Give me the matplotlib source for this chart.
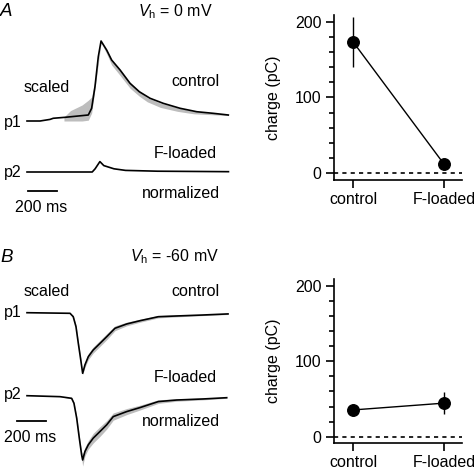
import numpy as np
import matplotlib
matplotlib.use("Agg")
import matplotlib.pyplot as plt
from matplotlib.ticker import MultipleLocator

plt.rcParams['font.family'] = ['Liberation Sans', 'DejaVu Sans']
plt.rcParams['mathtext.fontset'] = 'custom'
plt.rcParams['mathtext.rm'] = 'Liberation Sans'
plt.rcParams['mathtext.it'] = 'Liberation Sans:italic'

# ---------------- data ----------------
# Panel A (Vh = 0 mV) traces: time (ms), normalized amplitude
a_p1_t = [0, 90, 159, 181, 262, 423, 446, 469, 492, 511, 550, 584, 642, 711, 775, 849, 940, 1056, 1171, 1285, 1389]
a_p1_y = [0, 0, 0.02, 0.034, 0.046, 0.075, 0.159, 0.429, 0.804, 1.0, 0.886, 0.762, 0.638, 0.471, 0.366,
          0.284, 0.221, 0.159, 0.116, 0.096, 0.075]
a_band_t = [255, 300, 380, 423, 446, 469, 511, 550, 584, 642, 711, 775, 830, 920, 1040, 1150, 1260, 1390]
a_band_lo = [0.0, 0.0, 0.0, 0.01, 0.10, 0.40, 0.98, 0.84, 0.70, 0.57, 0.41, 0.31, 0.24, 0.17, 0.12, 0.09, 0.08, 0.068]
a_band_hi = [0.05, 0.13, 0.20, 0.26, 0.30, 0.50, 1.0, 0.89, 0.77, 0.645, 0.48, 0.375, 0.29, 0.225, 0.165, 0.12, 0.10, 0.08]
a_p2_t = [0, 450, 470, 503, 530, 600, 680, 900, 1390]
a_p2_y = [0, 0, 0.04, 0.13, 0.08, 0.04, 0.02, 0.01, 0.004]

# Panel B (Vh = -60 mV) traces
b_p1_t = [0, 297, 319, 338, 354, 371, 384, 400, 423, 457, 504, 550, 607, 688, 780, 906, 1033, 1214, 1387]
b_p1_y = [0, -0.01, -0.066, -0.231, -0.505, -0.78, -1.0, -0.86, -0.725, -0.615, -0.505, -0.396, -0.257,
          -0.186, -0.132, -0.066, -0.054, -0.038, -0.02]
b_p1_sd = [0, 0, 0.02, 0.03, 0.03, 0.03, 0.02, 0.04, 0.05, 0.05, 0.05, 0.05, 0.04, 0.03, 0.025, 0.02, 0.015, 0.01, 0.01]
b_p2_t = [0, 228, 308, 324, 343, 361, 377, 384, 400, 423, 457, 504, 550, 595, 688, 780, 906, 1033, 1214, 1378]
b_p2_y = [0, -0.016, -0.043, -0.125, -0.372, -0.702, -0.978, -1.061, -0.92, -0.81, -0.70, -0.59, -0.48, -0.345,
          -0.262, -0.196, -0.097, -0.071, -0.054, -0.033]
b_p2_sd = [0, 0, 0.01, 0.02, 0.03, 0.03, 0.05, 0.1, 0.07, 0.07, 0.08, 0.08, 0.07, 0.06, 0.05, 0.04, 0.03, 0.02, 0.015, 0.01]

# Charge summary
conditions = ['control', 'F-loaded']
charge_a = [173.5, 12]
charge_a_err = [33, 0]
charge_b = [35.5, 44.5]
charge_b_err = [8, 15]

# ---------------- figure ----------------
W, H = 474, 476
fig = plt.figure(figsize=(W / 100, H / 100), dpi=100)

def rect(x0, y0, x1, y1):
    return [x0 / W, 1 - y1 / H, (x1 - x0) / W, (y1 - y0) / H]

def fpos(x, y):
    return x / W, 1 - y / H

MS_PER_PX = 6.9
X0 = 27
FS = 11.5
GRAY = '#bdbdbd'

def trace_axes(y0, y1, base_px, px_per_unit):
    ax = fig.add_axes(rect(0, y0, 240, y1))
    ax.set_xlim(-X0 * MS_PER_PX, (240 - X0) * MS_PER_PX)
    ax.set_ylim(-(y1 - base_px) / px_per_unit, (base_px - y0) / px_per_unit)
    ax.axis('off')
    return ax

# Panel A traces
axA = trace_axes(0, 230, 121, 80.0)
offA2 = -(172 - 121) / 80.0
axA.fill_between(a_band_t, a_band_lo, a_band_hi, color=GRAY, lw=0)
axA.plot(a_p1_t, a_p1_y, color='black', lw=1.2)
axA.plot(a_p2_t, np.array(a_p2_y) + offA2, color='black', lw=1.2)
axA.plot([7, 207], [-(191 - 121) / 80.0] * 2, color='black', lw=1.3)

# Panel B traces
axB = trace_axes(230, 476, 312.7, 60.6)
offB2 = -(395.7 - 312.7) / 60.6
b1 = np.array(b_p1_y); s1 = np.array(b_p1_sd)
b2 = np.array(b_p2_y) + offB2; s2 = np.array(b_p2_sd)
axB.fill_between(b_p1_t, b1 - s1, b1 + s1, color=GRAY, lw=0)
axB.fill_between(b_p2_t, b2 - s2, b2 + s2, color=GRAY, lw=0)
axB.plot(b_p1_t, b1, color='black', lw=1.2)
axB.plot(b_p2_t, b2, color='black', lw=1.2)
axB.plot([-69, 131], [-(421 - 312.7) / 60.6] * 2, color='black', lw=1.3)

# Texts
def txt(x, y, s, ha='left', size=FS, **kw):
    fig.text(*fpos(x, y), s, ha=ha, va='center', fontsize=size, **kw)

txt(0, 12, 'A', size=13.5, style='italic')
txt(138, 12, r'$\mathit{V}_{\mathrm{h}}$ = 0 mV')
txt(24, 88, 'scaled')
txt(220, 81, 'control', ha='right')
txt(4, 122, 'p1')
txt(217, 154, 'F-loaded', ha='right')
txt(4, 172, 'p2')
txt(220, 193, 'normalized', ha='right')
txt(15, 208, '200 ms')

txt(0, 257, 'B', size=13.5, style='italic')
txt(130, 257, r'$\mathit{V}_{\mathrm{h}}$ = -60 mV')
txt(24, 291, 'scaled')
txt(220, 291, 'control', ha='right')
txt(4, 313, 'p1')
txt(217, 378, 'F-loaded', ha='right')
txt(4, 395, 'p2')
txt(220, 422, 'normalized', ha='right')
txt(4, 437, '200 ms')

# Charge panels
def charge_panel(r, vals, errs, ylim):
    ax = fig.add_axes(r)
    x = np.arange(len(conditions))
    ax.axhline(0, color='black', lw=1.2, ls=(0, (2.5, 2.5)))
    ax.errorbar(x, vals, yerr=errs, color='black', lw=1.0, marker='o', ms=8.3,
                elinewidth=1.0, capsize=0)
    ax.set_xlim(-0.21, 1.2)
    ax.set_ylim(*ylim)
    ax.set_xticks(x)
    ax.set_xticklabels(conditions, fontsize=FS)
    ax.set_yticks([0, 100, 200])
    ax.yaxis.set_minor_locator(MultipleLocator(20))
    ax.tick_params(axis='both', direction='out', length=6, width=1.2, labelsize=FS, pad=3)
    ax.tick_params(axis='y', which='minor', length=3.5, width=1.2)
    for s in ('top', 'right'):
        ax.spines[s].set_visible(False)
    for s in ('left', 'bottom'):
        ax.spines[s].set_linewidth(1.2)
    ax.set_ylabel('charge (pC)', fontsize=FS, labelpad=10)
    return ax

charge_panel(rect(334, 15, 462, 180), charge_a, charge_a_err, (-9.3, 209))
charge_panel(rect(334, 279, 462, 442.7), charge_b, charge_b_err, (-7.9, 209))

fig.savefig('out.png', dpi=100)
